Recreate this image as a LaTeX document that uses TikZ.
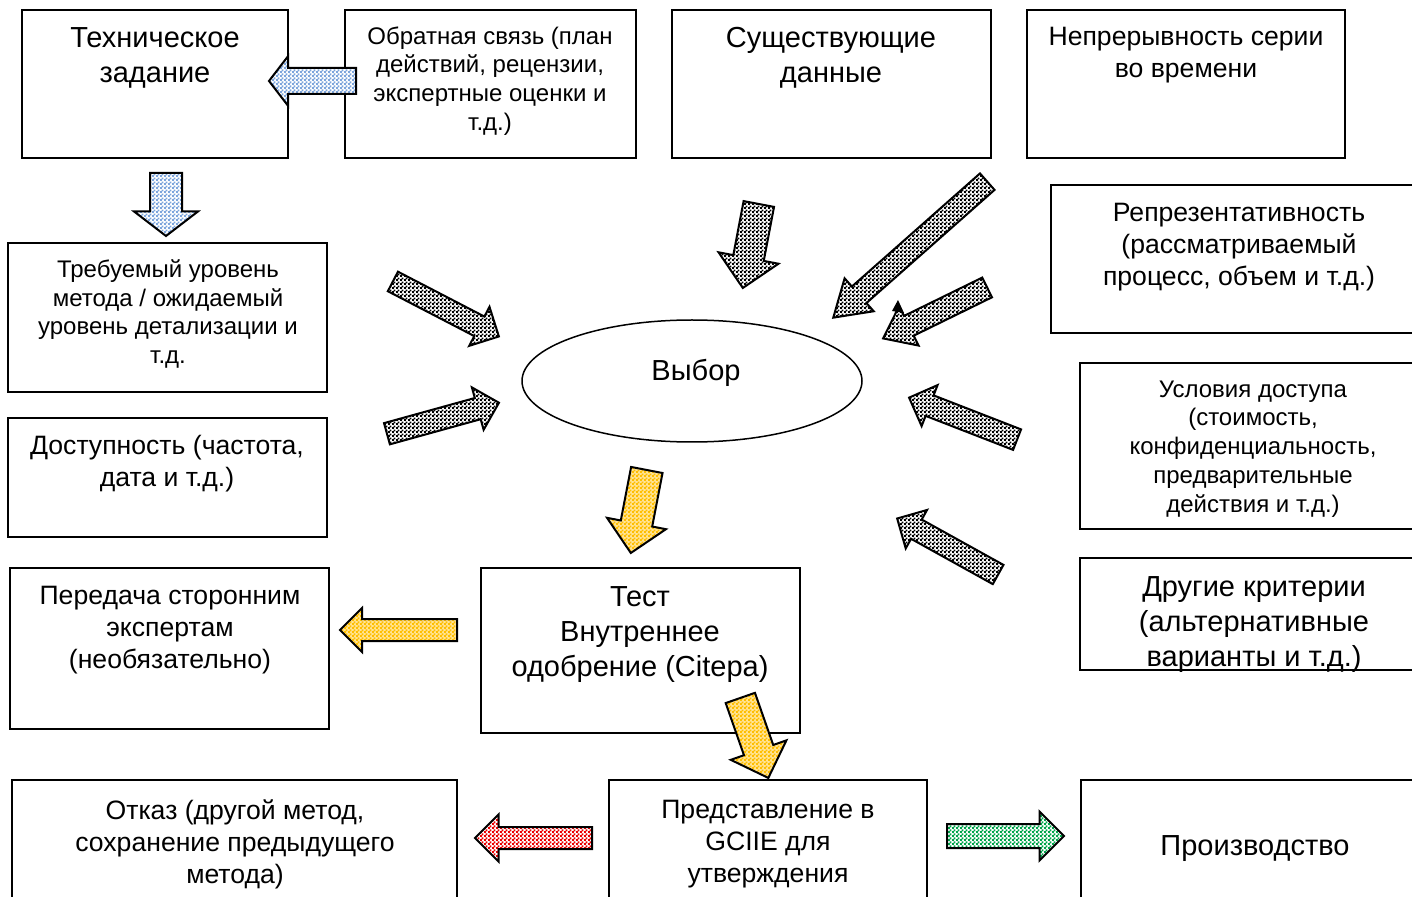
\documentclass[tikz,border=0pt]{standalone}
\usepackage{fontspec}
\setmainfont{Liberation Sans}
\usetikzlibrary{shapes.arrows,shapes.geometric,patterns,calc,fit}

\pgfdeclarepatternformonly{finechecks}{\pgfpointorigin}{\pgfqpoint{2pt}{2pt}}{\pgfqpoint{2pt}{2pt}}{%
  \pgfpathrectangle{\pgfpointorigin}{\pgfqpoint{1.15pt}{1.15pt}}%
  \pgfpathrectangle{\pgfqpoint{1pt}{1pt}}{\pgfqpoint{1.15pt}{1.15pt}}%
  \pgfusepath{fill}}

\definecolor{bluechk}{RGB}{125,165,220}
\definecolor{yelchk}{RGB}{255,190,0}
\definecolor{yelbase}{RGB}{255,228,150}
\definecolor{redchk}{RGB}{235,0,0}
\definecolor{grnchk}{RGB}{0,165,75}

\tikzset{
  box/.style={draw, line width=0.75pt, inner sep=0pt},
  bigtxt/.style={font=\fontsize{14.5}{17.5}\selectfont, align=center, inner sep=0pt, yshift=-1.5pt},
  midtxt/.style={font=\fontsize{13.3}{16}\selectfont, align=center, inner sep=0pt, yshift=-1.5pt},
  smalltxt/.style={font=\fontsize{12}{14.4}\selectfont, align=center, inner sep=0pt, yshift=-1.5pt},
  arr/.style 2 args={single arrow, draw=black, line width=1pt, inner xsep=0pt,
    preaction={fill=#1}, pattern=finechecks, pattern color=#2,
    single arrow tip angle=90},
  bluearr/.style={arr={white}{bluechk}, inner ysep=6pt, single arrow head extend=6pt, single arrow tip angle=105},
  grayarr/.style={arr={white}{black}, inner ysep=5pt, single arrow head extend=5.5pt},
  widegray/.style={arr={white}{black}, inner ysep=7.25pt, single arrow head extend=7.5pt},
  yelarr/.style={arr={yelbase}{yelchk}, inner ysep=7.5pt, single arrow head extend=7pt},
  thinyel/.style={arr={yelbase}{yelchk}, inner ysep=5pt, single arrow head extend=5.5pt},
  redarr/.style={arr={white}{redchk}, inner ysep=5pt, single arrow head extend=6.25pt},
  grnarr/.style={arr={white}{grnchk}, inner ysep=5.5pt, single arrow head extend=6.25pt}
}

% block arrow from tail to tip
\newcommand{\blockarr}[4]{%
  \path let \p1=($(#4)-(#3)$), \n1={veclen(\x1,\y1)} in
    node[#1, anchor=tail, rotate={atan2(\y1,\x1)}, minimum height=\n1] (#2) at (#3) {};}

\begin{document}
\begin{tikzpicture}[x=0.5pt, y=-0.5pt]
  \useasboundingbox (0,0) rectangle (1412,897);
  \clip (0,0) rectangle (1412,897);

  % boxes
  \node[box, fit={(22,10) (288,158)}] (tzbox) {};
  \node[box, fit={(345,10) (636,158)}] (fbbox) {};
  \node[box, fit={(672,10) (991,158)}] (exbox) {};
  \node[box, fit={(1027,10) (1345,158)}] (ctbox) {};
  \node[box, fit={(1051,185) (1416,333)}] (rpbox) {};
  \node[box, fit={(8,243) (327,392)}] (lvbox) {};
  \node[box, fit={(8,418) (327,537)}] (avbox) {};
  \node[box, fit={(1080,363) (1416,529)}] (acbox) {};
  \node[box, fit={(1080,558) (1416,670)}] (otbox) {};
  \node[box, fit={(10,568) (329,729)}] (trbox) {};
  \node[box, fit={(481,568) (800,733)}] (tsbox) {};
  \node[box, fit={(12,780) (457,901)}] (rjbox) {};
  \node[box, fit={(609,780) (927,901)}] (sbbox) {};
  \node[box, fit={(1081,780) (1416,901)}] (prbox) {};
  \node[draw, line width=0.75pt, ellipse, minimum width=170pt, minimum height=61pt, inner sep=0pt] (sel) at (692,381) {};

  % texts
  \node[bigtxt] (tz) at (155,55) {Техническое\\задание};
  \node[smalltxt] (fb) at (490,78) {Обратная связь (план\\действий, рецензии,\\экспертные оценки и\\т.д.)};
  \node[bigtxt] (ex) at (831,55) {Существующие\\данные};
  \node[midtxt] (ct) at (1186,52) {Непрерывность серии\\во времени};
  \node[midtxt] (rp) at (1239,244) {Репрезентативность\\(рассматриваемый\\процесс, объем и т.д.)};
  \node[smalltxt] (lv) at (168,311) {Требуемый уровень\\метода / ожидаемый\\уровень детализации и\\т.д.};
  \node[midtxt] (av) at (167,461) {Доступность (частота,\\дата и т.д.)};
  \node[bigtxt] (seltxt) at (696,370) {Выбор};
  \node[smalltxt] (ac) at (1253,446) {Условия доступа\\(стоимость,\\конфиденциальность,\\предварительные\\действия и т.д.)};
  \node[bigtxt] (ot) at (1254,622) {Другие критерии\\(альтернативные\\варианты и т.д.)};
  \node[midtxt] (tr) at (170,627) {Передача сторонним\\экспертам\\(необязательно)};
  \node[bigtxt] (ts) at (640,632) {Тест\\Внутреннее\\одобрение (Citepa)};
  \node[midtxt] (rj) at (235,841) {Отказ (другой метод,\\сохранение предыдущего\\метода)};
  \node[midtxt] (sb) at (768,841) {Представление в\\GCIIE для\\утверждения};
  \node[bigtxt] (pr) at (1255,846) {Производство};

  % arrows
  \blockarr{bluearr}{a1}{357,81}{270,81}
  \blockarr{bluearr, inner ysep=7.5pt, single arrow head extend=8pt}{a2}{166,172}{166,235}
  \blockarr{grayarr}{a3}{392,281}{498,336}
  \blockarr{grayarr}{a4}{386,434}{498,403}
  \blockarr{widegray}{a5}{759,203}{743,287}
  \blockarr{grayarr, single arrow tip angle=65}{a6}{988,181}{834,317}
  \blockarr{grayarr, single arrow tip angle=75}{a7}{988,287}{884,338}
  \blockarr{grayarr}{a8}{1018,440}{910,398}
  \blockarr{grayarr}{a9}{999,575}{898,519}
  \blockarr{yelarr}{a10}{647,469}{631,552}
  \blockarr{thinyel}{a11}{458,630}{341,630}
  \blockarr{yelarr, inner ysep=7.25pt}{a12}{740,697}{768,777}
  \blockarr{redarr}{a13}{593,838}{476,838}
  \blockarr{grnarr}{a14}{946,836}{1063,836}
  \fill (892,311) -- (898,300) -- (904,313) -- cycle;
\end{tikzpicture}
\end{document}
